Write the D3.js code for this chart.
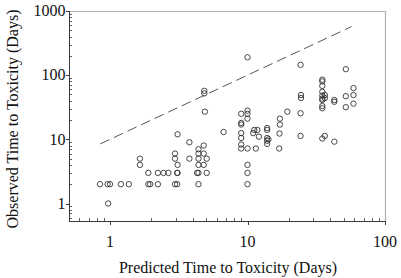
<!DOCTYPE html>
<html>
<head>
<meta charset="utf-8">
<script src="https://cdn.jsdelivr.net/npm/d3@7"></script>
<style>
  html, body { margin: 0; padding: 0; background: #fff; }
  svg { display: block; }
  text { font-family: "Liberation Serif", "Times New Roman", serif; fill: #111; }
</style>
</head>
<body>
<svg id="chart" width="401" height="278"></svg>
<script>
// ---- data ----
const predicted = [
  0.845, 0.96, 1.0, 0.97, 1.2, 1.37,
  1.65, 1.65,
  1.9, 1.9, 1.96, 2.23, 2.23, 2.45, 2.66,
  2.97, 2.97, 2.97, 3.08, 3.1, 3.1, 3.1, 3.08,
  3.78, 3.78,
  4.4, 4.4, 4.4, 4.4, 4.4, 4.3, 4.4,
  4.85, 4.85, 4.9, 4.8, 4.8, 4.8, 5.05, 5.05,
  6.7,
  9.0, 9.0, 9.0, 9.0, 9.0, 9.0, 9.0,
  10, 10, 10, 10, 10, 10, 10, 10,
  11.0, 11.2, 11.8, 11.5, 12.1,
  13.9, 13.9, 13.9, 13.9, 13.9, 14.2,
  17.2, 17.2, 17.1, 17.0,
  19.5,
  24.3, 24.5, 24.5, 24.3, 24.3,
  35, 35, 35, 35, 35, 35, 35, 35, 35, 35,
  36.5, 36.5, 36.5,
  42.8, 42.8, 42.8,
  51.9, 51.9, 51.9,
  59, 59, 59
];
const observed = [
  2, 2, 2, 1, 2, 2,
  5, 4,
  3, 2, 2, 3, 2, 3, 3,
  6, 5, 2, 2, 12, 4, 3, 3,
  9, 5,
  7, 6, 5, 4, 3, 3, 2,
  57, 52, 27, 8, 6, 4, 5, 3,
  13,
  25, 18, 17, 12.5, 10.5, 8.3, 7.2,
  190, 28, 25, 21, 7.2, 4, 3, 2,
  12.5, 14, 14, 7.2, 11,
  15, 14, 10.5, 9.5, 8.5, 10,
  21, 17, 12.3, 7.2,
  27,
  145, 49, 44, 25.5, 11.3,
  85, 80, 68, 55, 48, 43, 41, 33, 30.5, 10.3,
  49, 44, 11.3,
  41, 38.5, 9.2,
  124, 47, 31.7,
  63, 49, 36
];
// reference (dashed) line: observed = 10 x predicted
const refLineX = [0.85, 57];
const refLineFactor = 10;

const xTickValues = [1, 10, 100];
const xTickLabels = ["1", "10", "100"];
const yTickValues = [1, 10, 100, 1000];
const yTickLabels = ["1", "10", "100", "1000"];
const xTitle = "Predicted Time to Toxicity (Days)";
const yTitle = "Observed Time to Toxicity (Days)";

// ---- layout ----
const svg = d3.select("#chart");
const pLeft = 69, pRight = 385, pTop = 11, pBottom = 221;

const x = d3.scaleLog().domain([1, 100]).range([110, 385]);
const y = d3.scaleLog().domain([1, 1000]).range([203.5, 11]);
const xMin = 0.5, xMax = 100;
const yMin = y.invert(pBottom), yMax = 1000;

const axisColor = "#3a3a3a";

// frame: top & right light gray
svg.append("line").attr("x1", pLeft).attr("x2", pRight).attr("y1", pTop + 0.5).attr("y2", pTop + 0.5)
  .attr("stroke", "#b0b0b0").attr("stroke-width", 1.2);
svg.append("line").attr("x1", pRight + 0.5).attr("x2", pRight + 0.5).attr("y1", pTop).attr("y2", pBottom)
  .attr("stroke", "#b0b0b0").attr("stroke-width", 1.2);

// left and bottom axes
svg.append("line").attr("x1", pLeft + 0.5).attr("x2", pLeft + 0.5).attr("y1", pTop).attr("y2", pBottom)
  .attr("stroke", axisColor).attr("stroke-width", 1);
svg.append("line").attr("x1", pLeft).attr("x2", pRight + 1).attr("y1", pBottom + 0.5).attr("y2", pBottom + 0.5)
  .attr("stroke", axisColor).attr("stroke-width", 1);

// minor ticks
const minorX = [];
for (const d of [0.1, 1, 10]) for (let k = 1; k <= 9; k++) {
  const v = +(d * k).toPrecision(6);
  if (v >= xMin && v <= xMax && !xTickValues.includes(v)) minorX.push(v);
}
const minorY = [];
for (const d of [0.1, 1, 10, 100]) for (let k = 1; k <= 9; k++) {
  const v = +(d * k).toPrecision(6);
  if (v >= yMin && v <= yMax && !yTickValues.includes(v)) minorY.push(v);
}
svg.append("g").selectAll("line").data(minorX).join("line")
  .attr("x1", d => Math.round(x(d)) + 0.5).attr("x2", d => Math.round(x(d)) + 0.5)
  .attr("y1", pBottom).attr("y2", pBottom - 3)
  .attr("stroke", axisColor).attr("stroke-width", 0.8);
svg.append("g").selectAll("line").data(minorY).join("line")
  .attr("y1", d => Math.round(y(d)) + 0.5).attr("y2", d => Math.round(y(d)) + 0.5)
  .attr("x1", pLeft).attr("x2", pLeft + 3)
  .attr("stroke", axisColor).attr("stroke-width", 0.8);

// major ticks (outward)
svg.append("g").selectAll("line").data(xTickValues).join("line")
  .attr("x1", d => Math.round(x(d)) + 0.5).attr("x2", d => Math.round(x(d)) + 0.5)
  .attr("y1", pBottom).attr("y2", pBottom + 4)
  .attr("stroke", axisColor).attr("stroke-width", 1);
svg.append("g").selectAll("line").data(yTickValues).join("line")
  .attr("y1", d => Math.round(y(d)) + 0.5).attr("y2", d => Math.round(y(d)) + 0.5)
  .attr("x1", pLeft - 3).attr("x2", pLeft + 1)
  .attr("stroke", axisColor).attr("stroke-width", 1);

// tick labels
svg.append("g").selectAll("text").data(xTickValues).join("text")
  .attr("x", d => x(d)).attr("y", 247)
  .attr("text-anchor", "middle").attr("font-size", 16)
  .text((d, i) => xTickLabels[i]);
svg.append("g").selectAll("text").data(yTickValues).join("text")
  .attr("x", 65.5).attr("y", d => y(d) + 5.3)
  .attr("text-anchor", "end").attr("font-size", 16)
  .text((d, i) => yTickLabels[i]);

// axis titles
svg.append("text").attr("x", 228).attr("y", 273)
  .attr("text-anchor", "middle").attr("font-size", 16).text(xTitle);
svg.append("text").attr("transform", "translate(18,119) rotate(-90)")
  .attr("text-anchor", "middle").attr("font-size", 16).text(yTitle);

// dashed reference line
const line = d3.line().x(d => x(d)).y(d => y(d * refLineFactor));
svg.append("path").datum(refLineX).attr("d", line)
  .attr("fill", "none").attr("stroke", "#555").attr("stroke-width", 1)
  .attr("stroke-dasharray", "10,5");

// points
const pts = predicted.map((p, i) => ({ p, o: observed[i] }));
svg.append("g").selectAll("circle").data(pts).join("circle")
  .attr("cx", d => x(d.p)).attr("cy", d => y(d.o)).attr("r", 2.7)
  .attr("fill", "none").attr("stroke", "#333").attr("stroke-width", 0.9);
</script>
</body>
</html>
